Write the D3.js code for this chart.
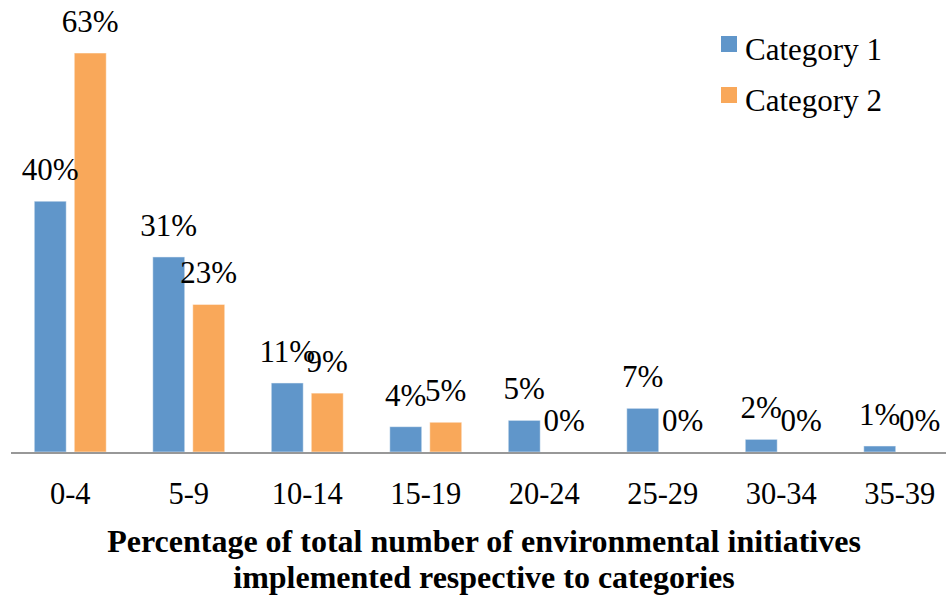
<!DOCTYPE html>
<html>
<head>
<meta charset="utf-8">
<script src="https://cdn.jsdelivr.net/npm/d3@7"></script>
<style>
  html, body { margin: 0; padding: 0; background: #fff; }
  svg { display: block; }
</style>
</head>
<body>
<svg id="chart" width="946" height="597" font-family="Liberation Serif, DejaVu Serif, serif"></svg>
<script>
const categories = ["0-4", "5-9", "10-14", "15-19", "20-24", "25-29", "30-34", "35-39"];
const seriesNames = ["Category 1", "Category 2"];
const category1 = [39.6, 30.8, 10.9, 4.0, 5.0, 6.9, 2.0, 0.95];
const category2 = [63.0, 23.3, 9.3, 4.7, 0, 0, 0, 0];
const colors = ["#6096CA", "#F9A85A"];
const titleLines = ["Percentage of total number of environmental initiatives", "implemented respective to categories"];

const FONT = "Liberation Serif, DejaVu Serif, serif";
const seriesValues = [category1, category2];
const svg = d3.select("#chart");

const x0 = d3.scaleBand().domain(categories).range([11, 959]).padding(0);
const x1 = d3.scaleBand().domain(seriesNames).range([23.25, 95.25]).paddingInner(0.2).paddingOuter(0);
const y = d3.scaleLinear().domain([0, 63]).range([452, 53]);

const rows = [];
categories.forEach((c, i) => {
  seriesNames.forEach((s, j) => {
    rows.push({ cat: c, ser: s, j: j, v: seriesValues[j][i] });
  });
});

// bars
svg.append("g").selectAll("rect").data(rows.filter(d => d.v > 0)).join("rect")
  .attr("x", d => x0(d.cat) + x1(d.ser))
  .attr("y", d => y(d.v))
  .attr("width", x1.bandwidth())
  .attr("height", d => y(0) - y(d.v))
  .attr("fill", d => colors[d.j])
  .attr("stroke", "#ffffff")
  .attr("stroke-opacity", 0.5)
  .attr("stroke-width", 1);

// axis line
svg.append("line")
  .attr("x1", x0.range()[0]).attr("x2", 946)
  .attr("y1", y(0) + 1).attr("y2", y(0) + 1)
  .attr("stroke", "#989898").attr("stroke-width", 2);

// tick labels via axis
const axis = d3.axisBottom(x0).tickSize(0).tickPadding(0);
const ag = svg.append("g").attr("transform", `translate(0,${y(0)})`).call(axis)
  .attr("font-family", FONT).attr("font-size", 30.5);
ag.select(".domain").remove();
ag.selectAll("text")
  .attr("dy", null)
  .attr("y", 52)
  .attr("fill", "#000");

// data labels
const fmt = v => Math.round(v) + "%";
svg.append("g").attr("font-family", FONT).attr("font-size", 31)
  .selectAll("text").data(rows).join("text")
  .attr("x", d => x0(d.cat) + x1(d.ser) + x1.bandwidth() / 2)
  .attr("y", d => y(d.v) - 21)
  .attr("text-anchor", "middle")
  .text(d => fmt(d.v));

// legend
const lg = svg.append("g").attr("font-family", FONT).attr("font-size", 31);
seriesNames.forEach((s, j) => {
  lg.append("rect").attr("x", 721).attr("y", 36 + j * 51).attr("width", 16).attr("height", 16).attr("fill", colors[j]);
  lg.append("text").attr("x", 745).attr("y", 60 + j * 50.5).text(s);
});

// axis title
const tt = svg.append("text").attr("text-anchor", "middle")
  .attr("font-family", FONT).attr("font-size", 32).attr("font-weight", "bold");
titleLines.forEach((t, i) => {
  tt.append("tspan").attr("x", 484).attr("y", 552 + i * 36).text(t);
});
</script>
</body>
</html>
